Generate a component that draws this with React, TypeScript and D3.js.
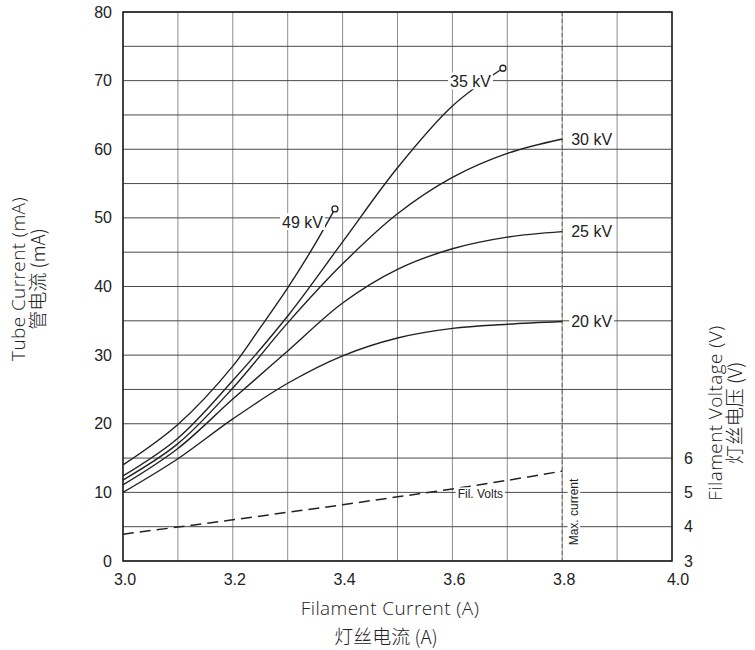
import React from 'react';
import * as d3 from 'd3';

// filament current (A) at which each curve was read
const currentGrid = [3.0, 3.1, 3.2, 3.3, 3.4, 3.5, 3.6, 3.7, 3.8];
const tube20kV = [10, 14.9, 20.7, 25.9, 29.9, 32.5, 33.9, 34.5, 34.9];
const tube25kV = [11.1, 16.4, 23.6, 30.6, 37.6, 42.5, 45.5, 47.2, 48.0];
const tube30kV = [11.8, 17.1, 25.2, 34.7, 43.3, 50.6, 55.9, 59.4, 61.5];
const current35kV = [3.0, 3.1, 3.2, 3.3, 3.4, 3.5, 3.6, 3.692];
const tube35kV = [12.4, 17.9, 26.3, 35.7, 46.5, 57.3, 66.3, 71.8];
const current49kV = [3.0, 3.1, 3.2, 3.25, 3.3, 3.35, 3.386];
const tube49kV = [14, 19.9, 28.4, 34, 39.8, 46.2, 51.3];
// filament voltage (V)
const filVolts = [3.78, 3.99, 4.2, 4.42, 4.64, 4.87, 5.1, 5.35, 5.62];

const xTicks = [3.0, 3.2, 3.4, 3.6, 3.8, 4.0];
const yTicks = [0, 10, 20, 30, 40, 50, 60, 70, 80];
const voltTicks = [3, 4, 5, 6];
const maxCurrent = 3.8;

const W = 755;
const H = 650;
const margin = { top: 12, right: 83, bottom: 89, left: 123 };

const tickFont = "'Liberation Sans', Arial, sans-serif";
const titleFont = "'Open Sans', sans-serif";
const cjkFont = "'Noto Sans CJK SC', sans-serif";

let ctx: CanvasRenderingContext2D | null = null;
const measure = (t: string, size: number) => {
  if (!ctx) ctx = document.createElement('canvas').getContext('2d');
  if (!ctx) return t.length * size * 0.55;
  ctx.font = `${size}px 'Liberation Sans', Arial`;
  return ctx.measureText(t).width;
};

const Label = ({ x, y, text, size = 16, anchor = 'start' }: any) => {
  const w = measure(text, size);
  const x0 = anchor === 'end' ? x - w : anchor === 'middle' ? x - w / 2 : x;
  return (
    <g>
      <rect x={x0 - 2} y={y - size * 0.55} width={w + 4} height={size * 1.05} fill="white" />
      <text x={x} y={y} dy="0.35em" textAnchor={anchor} fontFamily={tickFont} fontSize={size} fill="#222">
        {text}
      </text>
    </g>
  );
};

export default function App() {
  const x = d3.scaleLinear().domain([3, 4]).range([margin.left, W - margin.right]);
  const y = d3.scaleLinear().domain([0, 80]).range([H - margin.bottom, margin.top]);
  const yVolt = d3.scaleLinear().domain([3, 19]).range([H - margin.bottom, margin.top]);

  const line = d3
    .line<[number, number]>()
    .x((d) => x(d[0]))
    .y((d) => y(d[1]))
    .curve(d3.curveCatmullRom.alpha(0.5));

  const zip = (xs: number[], ys: number[]) => xs.map((v, i) => [v, ys[i]] as [number, number]);

  const curves = [
    { name: '20 kV', pts: zip(currentGrid, tube20kV) },
    { name: '25 kV', pts: zip(currentGrid, tube25kV) },
    { name: '30 kV', pts: zip(currentGrid, tube30kV) },
    { name: '35 kV', pts: zip(current35kV, tube35kV), marker: true },
    { name: '49 kV', pts: zip(current49kV, tube49kV), marker: true },
  ];

  const voltLine = d3
    .line<[number, number]>()
    .x((d) => x(d[0]))
    .y((d) => yVolt(d[1]))
    .curve(d3.curveCatmullRom.alpha(0.5));

  const left = x(3);
  const right = x(4);
  const top = y(80);
  const bottom = y(0);

  return (
    <svg width={W} height={H} style={{ position: 'absolute', left: 0, top: 0, background: 'white' }}>
      {/* grid */}
      {d3.ticks(3, 4, 10).map((t) => (
        <line key={'v' + t} x1={x(t)} x2={x(t)} y1={top} y2={bottom} stroke="#8c8c8c" strokeWidth={1} />
      ))}
      {d3.ticks(0, 80, 16).map((t) => (
        <line key={'h' + t} x1={left} x2={right} y1={y(t)} y2={y(t)} stroke="#4a4a4a" strokeWidth={1} />
      ))}

      {/* max current */}
      <line x1={x(maxCurrent)} x2={x(maxCurrent)} y1={top} y2={bottom} stroke="#666" strokeWidth={1} strokeDasharray="4 3" />

      {/* filament voltage */}
      <path d={voltLine(zip(currentGrid, filVolts)) || ''} fill="none" stroke="#222" strokeWidth={1.5} strokeDasharray="11 6" />

      {/* tube current curves */}
      {curves.map((c) => (
        <path key={c.name} d={line(c.pts) || ''} fill="none" stroke="#222" strokeWidth={1.4} />
      ))}

      {/* curve labels */}
      {curves.map((c) => {
        const end = c.pts[c.pts.length - 1];
        const ex = x(end[0]);
        const ey = y(end[1]);
        if (!c.marker) return <Label key={c.name} x={ex + 9} y={ey} text={c.name} />;
        return (
          <g key={c.name}>
            <Label x={ex - 12} y={ey + 13} text={c.name} anchor="end" />
            <circle cx={ex} cy={ey} r={3} fill="white" stroke="#222" strokeWidth={1.3} />
          </g>
        );
      })}

      <Label x={503} y={494} text="Fil. Volts" size={12} anchor="end" />
      <g transform={`translate(${x(maxCurrent) + 12},${bottom - 49}) rotate(-90)`}>
        <Label x={0} y={0} text="Max. current" size={12} anchor="middle" />
      </g>

      {/* frame */}
      <rect x={left} y={top} width={right - left} height={bottom - top} fill="none" stroke="#222" strokeWidth={1.6} />

      {/* left axis */}
      {yTicks.map((t) => (
        <text key={'yl' + t} x={left - 11} y={y(t)} dy="0.35em" textAnchor="end" fontFamily={tickFont} fontSize={16} fill="#222">
          {t}
        </text>
      ))}
      {/* bottom axis */}
      {xTicks.map((t) => (
        <text key={'xl' + t} x={x(t) + (t === 4 ? 6 : 2)} y={bottom + 24} textAnchor="middle" fontFamily={tickFont} fontSize={16} fill="#222">
          {d3.format('.1f')(t)}
        </text>
      ))}
      {/* right axis */}
      {voltTicks.map((t) => (
        <text key={'vl' + t} x={right + 12} y={yVolt(t)} dy="0.35em" textAnchor="start" fontFamily={tickFont} fontSize={16} fill="#222">
          {t}
        </text>
      ))}

      {/* titles */}
      <text x={390} y={615} textAnchor="middle" fontFamily={titleFont} fontSize={19} fontWeight={300} letterSpacing={0.4} fill="#222">
        Filament Current (A)
      </text>
      <text x={386} y={644} textAnchor="middle" fontFamily={cjkFont} fontSize={19} fontWeight={300} fill="#222">
        灯丝电流 (A)
      </text>
      <g transform="translate(25,279) rotate(-90)">
        <text textAnchor="middle" fontFamily={titleFont} fontSize={19} fontWeight={300} letterSpacing={0.4} fill="#222">Tube Current (mA)</text>
        <text y={20} textAnchor="middle" fontFamily={cjkFont} fontSize={19} fontWeight={300} fill="#222">管电流 (mA)</text>
      </g>
      <g transform="translate(722,413) rotate(-90)">
        <text textAnchor="middle" fontFamily={titleFont} fontSize={19} fontWeight={300} letterSpacing={0.4} fill="#222">Filament Voltage (V)</text>
        <text y={20} textAnchor="middle" fontFamily={cjkFont} fontSize={19} fontWeight={300} fill="#222">灯丝电压 (V)</text>
      </g>
    </svg>
  );
}
